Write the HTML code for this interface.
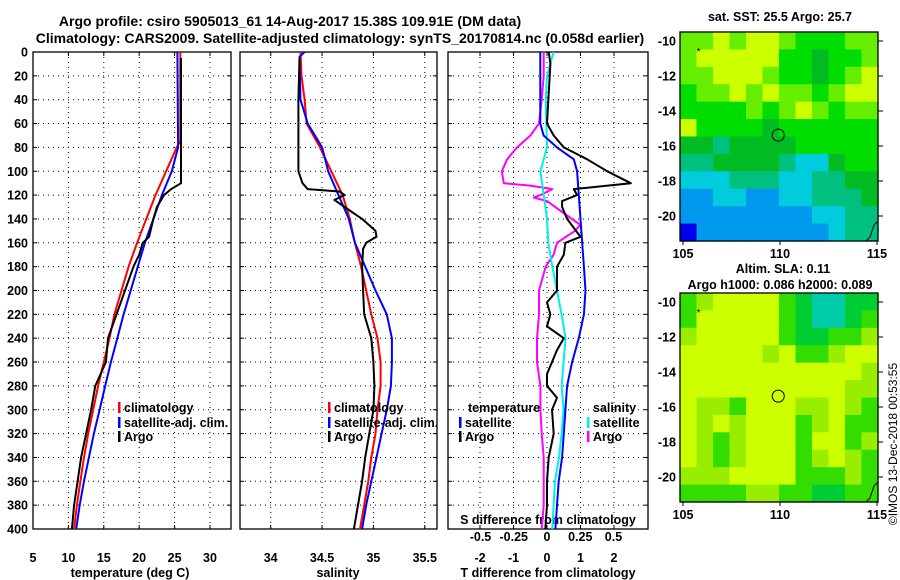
<!DOCTYPE html>
<html><head><meta charset="utf-8"><style>
body{margin:0;background:#fff;}
svg{display:block;font-family:"Liberation Sans",sans-serif;}
.b{font-weight:bold;font-size:12.5px;}
</style></head><body>
<svg id="chart" width="900" height="580" viewBox="0 0 900 580" xmlns="http://www.w3.org/2000/svg">
<text x="290" y="26" text-anchor="middle" font-weight="bold" font-size="14">Argo profile: csiro 5905013_61 14-Aug-2017 15.38S 109.91E (DM data)</text>
<text x="340" y="43" text-anchor="middle" font-weight="bold" font-size="14">Climatology: CARS2009. Satellite-adjusted climatology: synTS_20170814.nc (0.058d earlier)</text>
<g id="g"></g>
<text transform="translate(897,444) rotate(-90)" text-anchor="middle" font-size="12">©IMOS 13-Dec-2018 00:53:55</text>
</svg>
<script>
// ---------- data ----------
const tClimDepth=[0,75,80,100,120,140,160,180,200,220,240,260,280,300,320,340,360,380,400];
const tClim=[25.8,25.8,25.3,23.8,22.3,21,19.7,18.5,17.5,16.5,15.8,15,14.2,13.5,12.8,12.2,11.7,11.2,10.8];
const tSatDepth=[0,80,100,120,140,160,180,200,220,240,260,280,300,320,340,360,380,400];
const tSat=[25.4,25.5,24.6,23.2,22,20.8,19.8,18.8,17.8,16.9,16,15.2,14.4,13.6,12.9,12.2,11.6,11.1];
const tArgoDepth=[5,110,115,120,130,140,155,160,170,180,200,220,240,260,280,300,320,340,360,380,400];
const tArgo=[25.9,25.9,24.5,23.5,22.5,22,21.4,20.5,20,19.2,18,16.8,15.6,15.3,13.8,13.2,12.5,11.8,11.3,10.8,10.5];

const sClimDepth=[0,20,40,60,80,100,120,140,160,180,200,220,240,260,280,300,320,340,360,380,400];
const sClim=[34.29,34.3,34.33,34.35,34.48,34.59,34.7,34.77,34.82,34.88,34.93,34.98,35.04,35.07,35.07,35.04,35.02,34.98,34.95,34.91,34.87];
const sSatDepth=[0,4,40,60,80,100,120,140,160,180,200,220,240,260,280,300,320,340,360,380,400];
const sSat=[34.33,34.28,34.29,34.36,34.5,34.56,34.66,34.76,34.82,34.92,35.02,35.13,35.18,35.18,35.17,35.13,35.08,35.03,34.98,34.93,34.89];
const sArgoDepth=[5,40,100,110,115,117,120,124,130,140,150,155,160,165,180,200,220,240,260,280,300,320,340,360,380,400];
const sArgo=[34.28,34.27,34.27,34.31,34.36,34.67,34.72,34.62,34.72,34.89,35.02,35.03,34.93,34.9,34.89,34.9,34.91,34.98,35.0,35.01,35.0,34.96,34.92,34.89,34.85,34.81];

const dTSatDepth=[0,60,70,80,90,100,120,140,160,180,200,220,240,260,280,300,320,340,360,380,400];
const dTSat=[-0.2,-0.2,-0.1,0.3,0.8,0.9,0.95,1.0,1.05,1.1,1.15,1.1,0.95,0.75,0.6,0.55,0.5,0.45,0.35,0.3,0.25];
const dTArgoDepth=[0,10,60,70,80,90,100,110,115,120,125,130,140,155,160,170,180,200,210,220,230,240,250,270,280,290,300,320,340,360,380,400];
const dTArgo=[0.05,0.1,0.0,0.2,0.5,1.2,1.8,2.5,0.8,0.9,0.45,0.45,0.6,1.0,0.55,0.5,0.3,0.3,0.0,0.1,0.0,0.5,0.3,0.0,0.0,0.3,0.15,0.2,0.05,0.0,0.0,-0.05];
const dSSatDepth=[0,20,40,80,100,120,140,160,180,200,220,240,260,280,300,320,340,360,380,400];
const dSSat=[0.05,0,-0.01,0,-0.05,-0.025,0,0.01,0.04,0.075,0.11,0.14,0.125,0.11,0.125,0.11,0.09,0.06,0.05,0.04];
const dSArgoDepth=[0,20,40,60,70,80,90,100,110,112,115,120,122,125,135,145,150,160,170,180,200,220,240,260,280,300,320,340,360,380,400];
const dSArgo=[-0.025,-0.025,-0.04,-0.06,-0.125,-0.225,-0.3,-0.34,-0.325,-0.125,0.04,-0.05,-0.1,0,0.125,0.25,0.21,0.075,0.05,-0.01,-0.06,-0.06,-0.075,-0.075,-0.05,-0.05,-0.04,-0.025,-0.025,-0.025,-0.04];

const depthTicks=[0,20,40,60,80,100,120,140,160,180,200,220,240,260,280,300,320,340,360,380,400];
const tTicks=[5,10,15,20,25,30];
const sTicks=[34,34.5,35,35.5];
const dTTicks=[-2,-1,0,1,2];
const dSTicks=[-0.5,-0.25,0,0.25,0.5];
const lonTicks=[105,110,115];
const latTicks=[-10,-12,-14,-16,-18,-20];

const sstColors=['#ccff00','#66ee00','#00dd00','#00bb22','#00c080','#00ccdd','#0099ee','#0000ee'];
const sstGrid=[
"110100122211","100000223221","110001223210","211010112100","222212101211","022223222222",
"334333322222","443333455322","555444554433","665566554443","666666665544","766666666544"];
const slaColors=['#ccff00','#99ee00','#33dd00','#00cc33','#00ccaa'];
const slaGrid=[
"210000234433","200000234432","100000233221","000001022100","000000000001","000000000011",
"011200011012","010100021022","012100020021","012100021012","111000022212","222211223322"];

// ---------- drawing ----------
const NS='http://www.w3.org/2000/svg';
const g=document.getElementById('g');
function mk(tag,attrs,parent){const e=document.createElementNS(NS,tag);for(const k in attrs)e.setAttribute(k,attrs[k]);(parent||g).appendChild(e);return e;}
const Y0=52,Y1=529;
const yD=d=>Y0+d*(Y1-Y0)/400;
const xT=v=>33+(v-5)*7.08;
const xS=v=>270.7+(v-34)*102.7;
const xDT=v=>547+v*33.5;
const xDS=v=>547+v*133;

function frame(x0,x1,name){
  const r=mk('rect',{x:x0,y:Y0,width:x1-x0,height:Y1-Y0,fill:'none',stroke:'#000','stroke-width':1.3});
  
  
  depthTicks.forEach(d=>{
    if(d>0&&d<400){const l=mk('line',{x1:x0,x2:x1,y1:yD(d),y2:yD(d),stroke:'#000','stroke-dasharray':'1,4','stroke-width':1});
    
    
    mk('line',{x1:x0,x2:x0+4,y1:yD(d),y2:yD(d),stroke:'#000'});mk('line',{x1:x1-4,x2:x1,y1:yD(d),y2:yD(d),stroke:'#000'});}
  });
}
function vgrid(xs,x0,x1){xs.forEach(x=>{if(x>x0+1&&x<x1-1){const l=mk('line',{x1:x,x2:x,y1:Y0,y2:Y1,stroke:'#000','stroke-dasharray':'1,4'});
  
  
  mk('line',{x1:x,x2:x,y1:Y1-4,y2:Y1,stroke:'#000'});mk('line',{x1:x,x2:x,y1:Y0,y2:Y0+4,stroke:'#000'});}});}
function txt(x,y,s,anchor,name,extra){const t=mk('text',Object.assign({x:x,y:y,'text-anchor':anchor||'middle','class':'b'},extra||{}));t.textContent=s;
  
  
  return t;}
function line(xf,vals,depths,color,name,w){
  const pts=vals.map((v,i)=>xf(v).toFixed(1)+','+yD(depths[i]).toFixed(1)).join(' ');
  const p=mk('polyline',{points:pts,fill:'none',stroke:color,'stroke-width':w||2,'stroke-linejoin':'round'});
  
  
}
function legend(x,y,color,label,name){
  const r=mk('rect',{x:x,y:y-10,width:2.5,height:11,fill:color});
  
  
  txt(x+6,y,label,'start',name);
}

// panel 1
frame(33,231,'temperature-panel');
vgrid(tTicks.map(xT),33,231);
depthTicks.forEach(d=>txt(28,yD(d)+4.5,String(d),'end','y-tick-label'));
tTicks.forEach(v=>txt(xT(v),562,String(v),'middle','x-tick-temperature'));
txt(130,577,'temperature (deg C)','middle','x-axis-title-temperature');
line(xT,tClim,tClimDepth,'#ff0000','temperature-climatology-line');
line(xT,tSat,tSatDepth,'#0000ff','temperature-satellite-line');
line(xT,tArgo,tArgoDepth,'#000000','temperature-argo-line');
legend(118,412,'#ff0000','climatology','legend-climatology');
legend(118,427,'#0000ff','satellite-adj. clim.','legend-satellite');
legend(118,441,'#000000','Argo','legend-argo');

// panel 2
frame(240,437,'salinity-panel');
vgrid(sTicks.map(xS),240,437);
sTicks.forEach(v=>txt(xS(v),562,String(v),'middle','x-tick-salinity'));
txt(338,577,'salinity','middle','x-axis-title-salinity');
line(xS,sClim,sClimDepth,'#ff0000','salinity-climatology-line');
line(xS,sSat,sSatDepth,'#0000ff','salinity-satellite-line');
line(xS,sArgo,sArgoDepth,'#000000','salinity-argo-line');
legend(328,412,'#ff0000','climatology','legend-climatology-sal');
legend(328,427,'#0000ff','satellite-adj. clim.','legend-satellite-sal');
legend(328,441,'#000000','Argo','legend-argo-sal');

// panel 3
frame(448,648,'difference-panel');
vgrid(dTTicks.map(xDT),448,648);
dTTicks.forEach(v=>txt(xDT(v),562,String(v),'middle','x-tick-tdiff'));
txt(548,577,'T difference from climatology','middle','x-axis-title-tdiff');
txt(548,524,'S difference from climatology','middle','s-axis-title');
dSTicks.forEach(v=>txt(xDS(v),541,String(v),'middle','x-tick-sdiff'));
line(xDS,dSArgo,dSArgoDepth,'#ff00ff','salinity-diff-argo-line');
line(xDS,dSSat,dSSatDepth,'#00eeee','salinity-diff-satellite-line');
line(xDT,dTSat,dTSatDepth,'#0000ff','temperature-diff-satellite-line');
line(xDT,dTArgo,dTArgoDepth,'#000000','temperature-diff-argo-line');
txt(468,412,'temperature','start','legend-title-temperature');
legend(459,427,'#0000ff','satellite','legend-tdiff-satellite');
legend(459,441,'#000000','Argo','legend-tdiff-argo');
txt(593,412,'salinity','start','legend-title-salinity');
legend(587,427,'#00eeee','satellite','legend-sdiff-satellite');
legend(587,441,'#ff00ff','Argo','legend-sdiff-argo');

// maps
function map(top,grid,colors,name,lat10,lat20){
  const x0=680,x1=878,bot=top+209;
  const rows=grid.length,cols=grid[0].length,cw=(x1-x0)/cols,ch=(bot-top)/rows;
  grid.forEach((row,r)=>{for(let c=0;c<cols;c++){
    const cell=mk('rect',{x:(x0+c*cw).toFixed(2),y:(top+r*ch).toFixed(2),width:(cw+0.6).toFixed(2),height:(ch+0.6).toFixed(2),fill:colors[+row[c]]});
    
    
  }});
  const f=mk('rect',{x:x0,y:top,width:x1-x0,height:bot-top,fill:'none',stroke:'#000','stroke-width':1.3});
  
  
  const lonX=v=>683+(v-105)*19.4;
  const latY=v=>lat10+(-10-v)*(lat20-lat10)/10;
  latTicks.forEach(v=>{txt(676,latY(v)+4.5,String(v),'end',name+'-lat-label');mk('line',{x1:x1,x2:x1+5,y1:latY(v),y2:latY(v),stroke:'#000'});});
  lonTicks.forEach(v=>{txt(lonX(v),bot+17,String(v),'middle',name+'-lon-label');mk('line',{x1:lonX(v),x2:lonX(v),y1:bot,y2:bot+4,stroke:'#000'});});
  const c=mk('circle',{cx:lonX(109.91),cy:latY(-15.38),r:6,fill:'none',stroke:'#000','stroke-width':1});
  
  
  mk('text',{x:lonX(105.8),y:latY(-10.5)+5,'font-size':10,'text-anchor':'middle'}).textContent='*';
  mk('polyline',{points:`${x1-12},${bot} ${x1-8},${bot-4} ${x1-6},${bot-10} ${x1-4},${bot-16} ${x1},${bot-20}`,fill:'none',stroke:'#000','stroke-width':1});
}
txt(780,21,'sat. SST: 25.5 Argo: 25.7','middle','sst-map-title');
map(32,sstGrid,sstColors,'sst-map',41,216);
txt(783,273,'Altim. SLA: 0.11','middle','sla-map-title');
txt(780,289,'Argo h1000: 0.086 h2000: 0.089','middle','sla-map-subtitle');
map(293,slaGrid,slaColors,'sla-map',302,477);
</script>
</body></html>
